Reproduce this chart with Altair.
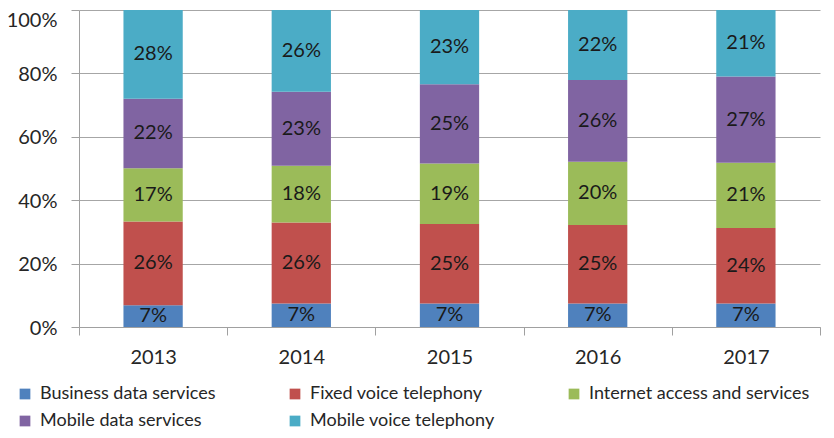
import altair as alt
import pandas as pd

years = ["2013", "2014", "2015", "2016", "2017"]
series = ["Business data services", "Fixed voice telephony", "Internet access and services",
          "Mobile data services", "Mobile voice telephony"]
business = [6.9, 7.4, 7.4, 7.4, 7.45]
fixed = [26.4, 25.6, 25.1, 24.8, 23.8]
internet = [16.8, 17.9, 19.1, 19.9, 20.6]
mobile_data = [21.9, 23.3, 25.0, 25.8, 27.2]
mobile_voice = [28.0, 25.8, 23.4, 22.1, 21.0]
colors = ["#4F81BD", "#C0504D", "#9BBB59", "#8064A2", "#4BACC6"]

rows = []
for s_i, (name, vals) in enumerate(zip(series, [business, fixed, internet, mobile_data, mobile_voice])):
    for y, v in zip(years, vals):
        rows.append({"year": y, "series": name, "order": s_i, "value": v})
df = pd.DataFrame(rows)

FONT = "Lato"
TXT = "#262626"
x = alt.X("year:N", title=None, sort=years,
          scale=alt.Scale(paddingInner=0, paddingOuter=0),
          axis=alt.Axis(tickBand="extent", labelAngle=0, labelFontSize=20, labelColor=TXT,
                        labelFont=FONT, domainColor="#a0a0a0", tickColor="#a0a0a0", tickSize=8,
                        labelPadding=12, grid=False))

bars = alt.Chart(df).mark_bar(width=alt.RelativeBandSize(0.4)).encode(
    x=x,
    y=alt.Y("value:Q", stack="normalize", title=None,
            scale=alt.Scale(domain=[0, 1]),
            axis=alt.Axis(format=".0%", values=[0, 0.2, 0.4, 0.6, 0.8, 1.0], labelFontSize=20,
                          labelFont=FONT, labelColor=TXT, gridColor="#a6a6a6",
                          labelOffset={"condition": {"test": "datum.value == 1", "value": 10}, "value": 1},
                          domainColor="#a0a0a0", tickColor="#a0a0a0", tickSize=8, labelPadding=14)),
    color=alt.Color("series:N", sort=series,
                    scale=alt.Scale(domain=series, range=colors),
                    legend=alt.Legend(title=None, orient="none", legendX=-63, legendY=375,
                                      direction="horizontal", columns=3, symbolType="square",
                                      symbolSize=115, symbolStrokeWidth=0, labelFontSize=18,
                                      labelFont=FONT, labelColor=TXT, columnPadding=70,
                                      rowPadding=9, labelOffset=6, labelLimit=0, padding=0)),
    order=alt.Order("order:Q"),
)

labels = alt.Chart(df).transform_stack(
    stack="value", as_=["y0", "y1"], groupby=["year"], sort=[alt.SortField("order")], offset="normalize"
).transform_calculate(
    mid="(datum.y0 + datum.y1) / 2",
    label="round(datum.value) + '%'"
).mark_text(fontSize=20, font=FONT, color="#1a1a1a", baseline="middle").encode(
    x=alt.X("year:N", sort=years),
    y=alt.Y("mid:Q"),
    text="label:N",
)

chart = alt.layer(bars, labels).properties(
    width=741, height=317,
    autosize=alt.AutoSizeParams(type="none"),
    padding={"left": 71, "top": 2, "right": 6, "bottom": 103},
).configure_view(stroke=None)

chart.save("out.html", embed_options={"renderer": "svg", "actions": False})
